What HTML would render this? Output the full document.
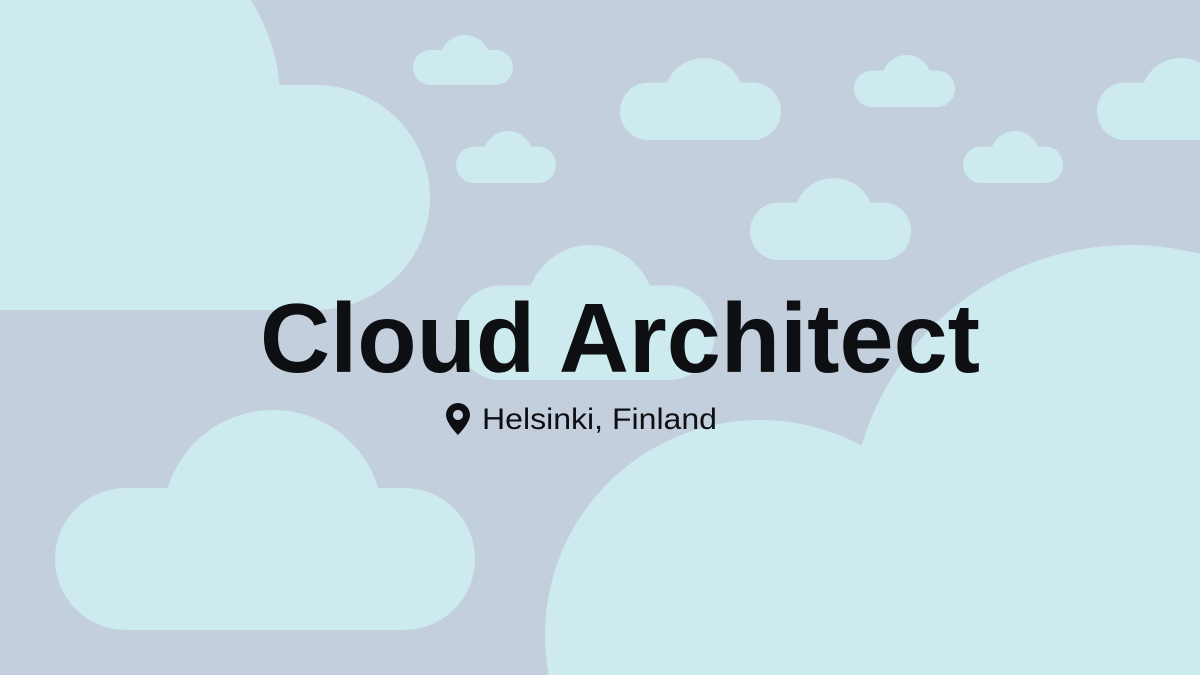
<!DOCTYPE html>
<html><head><style>
html,body{margin:0;padding:0;width:1200px;height:675px;overflow:hidden;}
body{background:#c4cfde;}
svg{display:block;overflow:hidden;}
</style></head><body>
<svg width="1200" height="675" viewBox="0 0 1200 675" xmlns="http://www.w3.org/2000/svg">
<defs>
<clipPath id="f"><rect width="1200" height="675"/></clipPath>
<g id="c">
<rect x="0" y="15" width="100" height="35" rx="17.5" fill="#cdebee"/>
<circle cx="52" cy="25" r="25" fill="#cdebee"/>
<circle cx="78" cy="32" r="17" fill="#cdebee"/>
</g>
</defs>
<rect width="1200" height="675" fill="#c4cfde"/>
<g clip-path="url(#f)">
<g fill="#cdebee">
<rect x="-150" y="85" width="580" height="225" rx="115"/>
<circle cx="95" cy="100" r="185"/>
<rect x="55" y="488" width="420" height="142" rx="71"/>
<circle cx="273" cy="520" r="110"/>
<circle cx="1130" cy="525" r="280"/>
<circle cx="760" cy="635" r="215"/>
<rect x="560" y="560" width="640" height="115"/>
</g>
<use href="#c" transform="translate(413,35) scale(1)"/>
<use href="#c" transform="translate(620,58) scale(1.61,1.64)"/>
<use href="#c" transform="translate(854,55) scale(1.01,1.04)"/>
<use href="#c" transform="translate(1097,58) scale(1.61,1.64)"/>
<use href="#c" transform="translate(456,131) scale(1,1.04)"/>
<use href="#c" transform="translate(963,131) scale(1,1.04)"/>
<use href="#c" transform="translate(750,178) scale(1.61,1.64)"/>
<use href="#c" transform="translate(455,245) scale(2.6,2.7)"/>
</g>
<text x="620" y="372" text-anchor="middle" textLength="720" lengthAdjust="spacingAndGlyphs" font-family="Liberation Sans, sans-serif" font-weight="bold" font-size="98" fill="#0e0f12">Cloud Architect</text>
<path d="M458 403 a12 12 0 0 1 12 12 c0 8 -12 20 -12 20 c0 0 -12 -12 -12 -20 a12 12 0 0 1 12 -12 z M458 410 a5 5 0 1 0 0.01 0 z" fill="#0e0f12" fill-rule="evenodd"/>
<text x="482" y="429" textLength="235" lengthAdjust="spacingAndGlyphs" font-family="Liberation Sans, sans-serif" font-size="30" fill="#0e0f12">Helsinki, Finland</text>
</svg>
</body></html>
